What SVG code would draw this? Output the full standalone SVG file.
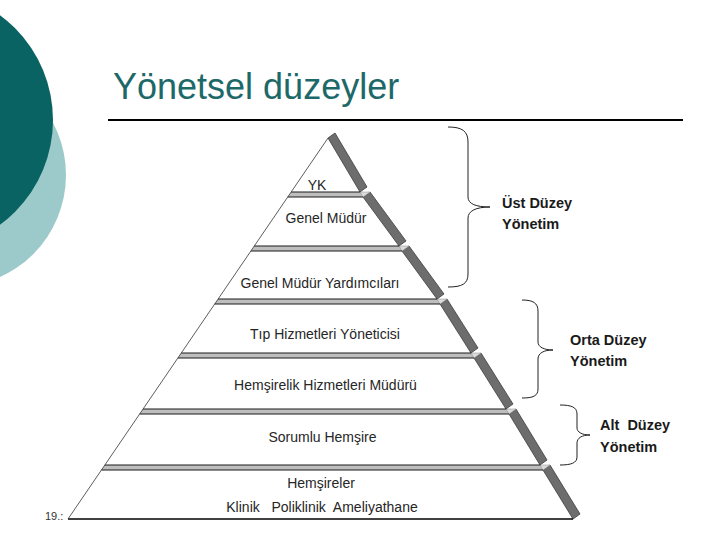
<svg xmlns="http://www.w3.org/2000/svg" width="720" height="540" viewBox="0 0 720 540">
<style>
.side{fill:#6d6d6d;stroke:#3c3c3c;stroke-width:0.8}
.band{fill:#bebebe;stroke:none}
.patch{fill:#dcdcdc;stroke:#8a8a8a;stroke-width:0.5}
.edge{stroke:#1a1a1a;stroke-width:1;fill:none}
.lbl{font-family:"Liberation Sans",Arial,sans-serif;font-size:14px;fill:#262626;text-anchor:middle}
.rl{font-family:"Liberation Sans",Arial,sans-serif;font-size:14.5px;font-weight:bold;fill:#1a1a1a}
.brace{fill:none;stroke:#222;stroke-width:1}
</style>
<rect width="720" height="540" fill="#fff"/>
<g id="decor">
<circle cx="-46" cy="175" r="112" fill="#9ccaca"/>
<circle cx="-77" cy="120" r="130" fill="#0a6363"/>
</g>
<g id="title">
<text x="113" y="99" font-family="'Liberation Sans',Arial,sans-serif" font-size="36" fill="#1d6868">Yönetsel düzeyler</text>
<line x1="108" y1="120" x2="683" y2="120" stroke="#000" stroke-width="2"/>
</g>
<text x="45" y="520" font-family="'Liberation Sans',Arial,sans-serif" font-size="11" fill="#333">19.:</text>
<g id="pyramid">
<g id="level7">
<polygon class="side" points="543,470 550,465 580,514 573,519"/>
<polygon class="band" points="101.4,470 543,470 550,465 104.9,465"/>
<polygon class="patch" points="540,465 550,465 543,470"/>
<line class="edge" x1="101.4" y1="470" x2="543" y2="470"/>
<line x1="68" y1="519" x2="573" y2="519" stroke="#000" stroke-width="1.5"/>
<text class="lbl" x="321" y="488">Hemşireler</text>
<text class="lbl" x="322" y="512" xml:space="preserve">Klinik   Poliklinik  Ameliyathane</text>
</g>
<g id="level6">
<polygon class="side" points="509,414 516,409 547,460 540,465"/>
<polygon class="band" points="139.7,414 509,414 516,409 143.1,409"/>
<polygon class="patch" points="506,409 516,409 509,414"/>
<line class="edge" x1="139.7" y1="414" x2="509" y2="414"/>
<line class="edge" x1="104.9" y1="465" x2="540" y2="465"/>
<text class="lbl" x="322.5" y="442">Sorumlu Hemşire</text>
</g>
<g id="level5">
<polygon class="side" points="474,358 481,353 513,404 506,409"/>
<polygon class="band" points="177.9,358 474,358 481,353 181.3,353"/>
<polygon class="patch" points="471,353 481,353 474,358"/>
<line class="edge" x1="177.9" y1="358" x2="474" y2="358"/>
<line class="edge" x1="143.1" y1="409" x2="506" y2="409"/>
<text class="lbl" x="325.5" y="390">Hemşirelik Hizmetleri Müdürü</text>
</g>
<g id="level4">
<polygon class="side" points="440,304 447,299 478,348 471,353"/>
<polygon class="band" points="214.7,304 440,304 447,299 218.1,299"/>
<polygon class="patch" points="437,299 447,299 440,304"/>
<line class="edge" x1="214.7" y1="304" x2="440" y2="304"/>
<line class="edge" x1="181.3" y1="353" x2="471" y2="353"/>
<text class="lbl" x="325" y="339">Tıp Hizmetleri Yöneticisi</text>
</g>
<g id="level3">
<polygon class="side" points="402,251 409,246 444,294 437,299"/>
<polygon class="band" points="250.9,251 402,251 409,246 254.3,246"/>
<polygon class="patch" points="399,246 409,246 402,251"/>
<line class="edge" x1="250.9" y1="251" x2="402" y2="251"/>
<line class="edge" x1="218.1" y1="299" x2="437" y2="299"/>
<text class="lbl" x="320" y="288">Genel Müdür Yardımcıları</text>
</g>
<g id="level2">
<polygon class="side" points="363,197 370,192 406,241 399,246"/>
<polygon class="band" points="287.7,197 363,197 370,192 291.2,192"/>
<polygon class="patch" points="360,192 370,192 363,197"/>
<line class="edge" x1="287.7" y1="197" x2="363" y2="197"/>
<line class="edge" x1="254.3" y1="246" x2="399" y2="246"/>
<text class="lbl" x="326" y="223">Genel Müdür</text>
</g>
<g id="level1">
<polygon class="side" points="328,138 335,133 367,187 360,192"/>
<line class="edge" x1="291.2" y1="192" x2="360" y2="192"/>
<text class="lbl" x="317" y="190" font-size="12">YK</text>
</g>
<line x1="328" y1="138" x2="68" y2="519" stroke="#333" stroke-width="0.8"/>
</g>
<g id="connectors">
<path class="brace" d="M448,127 C462,127 468,131 468,142 L468,197 C468,204 476,207 490,207 C476,207 468,211 468,218 L468,274 C468,284 462,287 448,287"/>
<path class="brace" d="M522,300 C533,300 538,303 538,311 L538,342 C538,347 544,350 553,350 C544,350 538,353 538,359 L538,389 C538,396 533,398 522,398"/>
<path class="brace" d="M560,405 C571,405 577,407 577,414 L577,428 C577,432 582,435 590,435 C582,435 577,438 577,443 L577,457 C577,463 571,465 560,465"/>
</g>
<g id="labels">
<text class="rl" x="502" y="208">Üst Düzey</text>
<text class="rl" x="502" y="229">Yönetim</text>
<text class="rl" x="570" y="345">Orta Düzey</text>
<text class="rl" x="570" y="366">Yönetim</text>
<text class="rl" x="600" y="430" xml:space="preserve">Alt  Düzey</text>
<text class="rl" x="600" y="452">Yönetim</text>
</g>
</svg>
